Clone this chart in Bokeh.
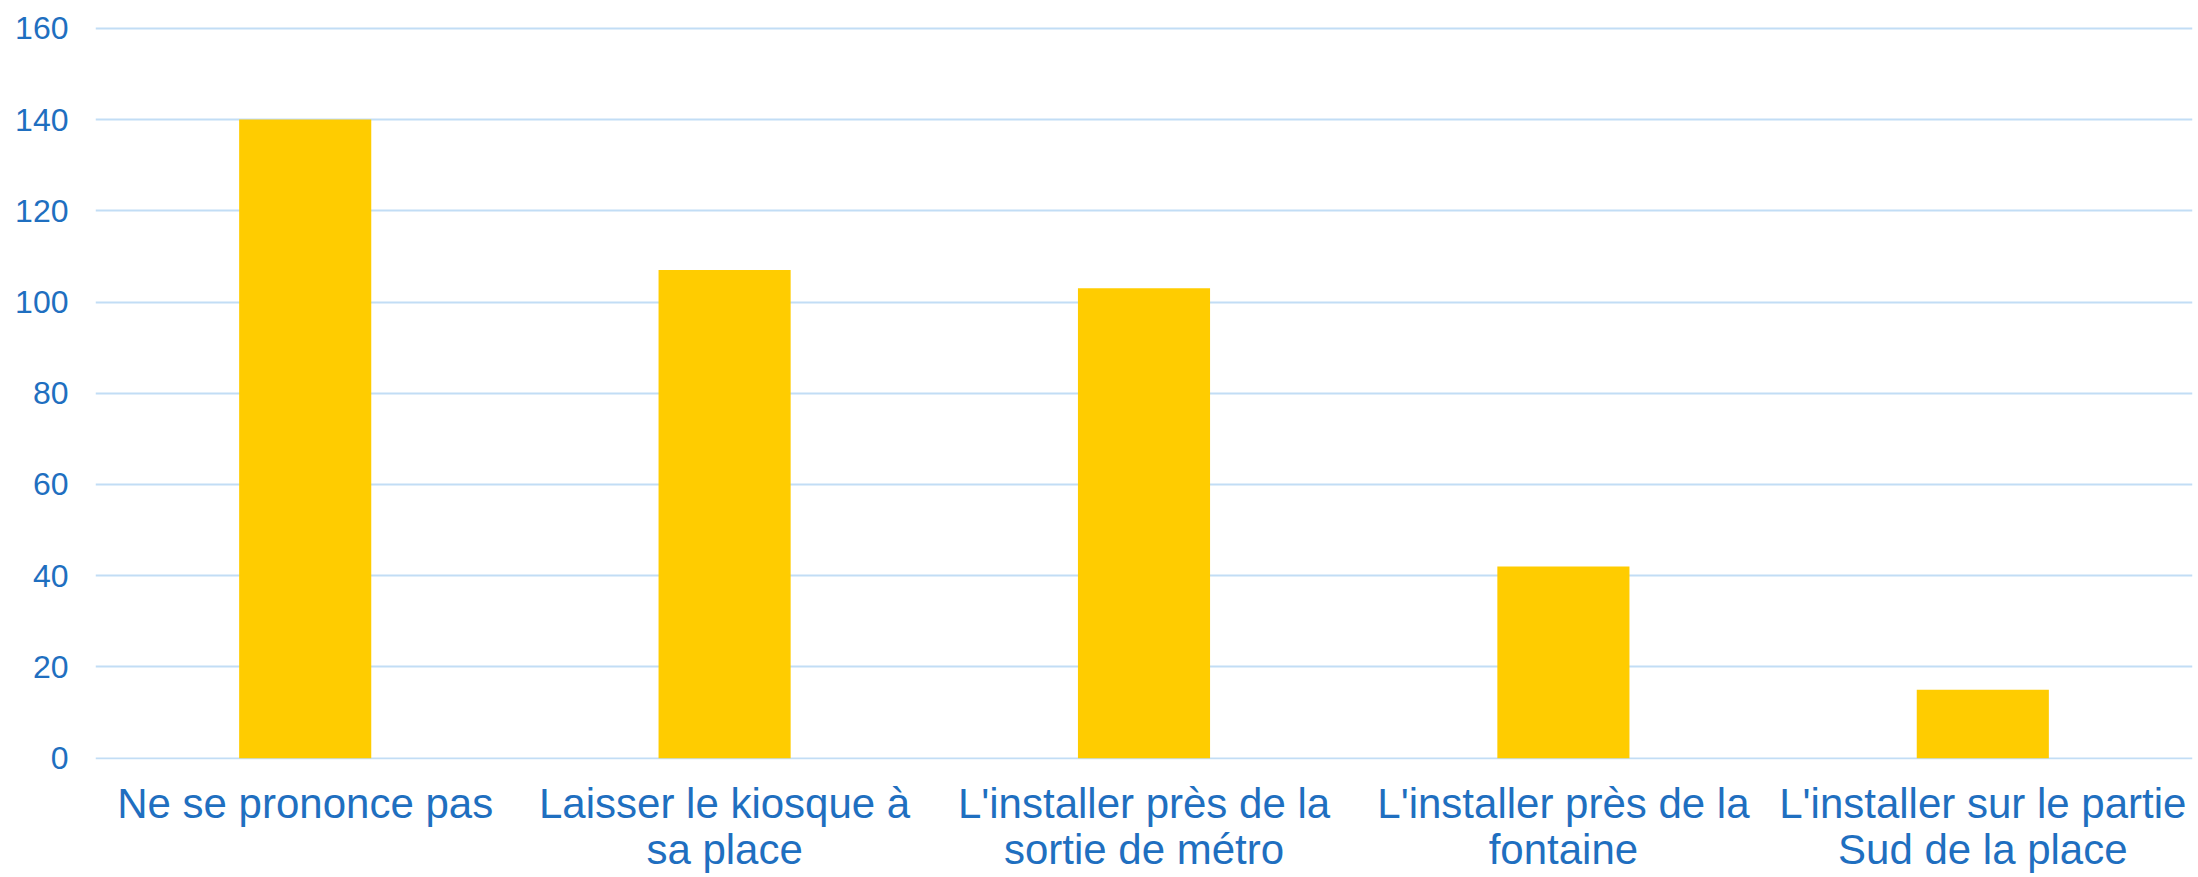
from bokeh.plotting import figure
from bokeh.models import FixedTicker
from bokeh.embed import file_html
from bokeh.resources import INLINE

categories = [
    "Ne se prononce pas",
    "Laisser le kiosque à\nsa place",
    "L'installer près de la\nsortie de métro",
    "L'installer près de la\nfontaine",
    "L'installer sur le partie\nSud de la place",
]
values = [140, 107, 103, 42, 15]
y_ticks = [0, 20, 40, 60, 80, 100, 120, 140, 160]

TEXT_BLUE = "#1F6FC0"
GRID_BLUE = "#C2DDF5"
BAR_YELLOW = "#FFCC00"
FONT = "Liberation Sans"

p = figure(
    x_range=categories,
    y_range=(-0.3, 160.4),
    width=2198,
    height=877,
    output_backend="svg",
    toolbar_location=None,
    min_border_left=95,
    min_border_right=6,
    min_border_top=26,
    min_border_bottom=118,
)
p.outline_line_color = None
p.background_fill_color = "white"
p.border_fill_color = "white"

p.vbar(x=categories, top=values, bottom=0, width=0.315,
       fill_color=BAR_YELLOW, line_color=None)

# x axis: category labels only
p.xaxis.axis_line_color = None
p.xaxis.major_tick_line_color = None
p.xaxis.minor_tick_line_color = None
p.xaxis.major_tick_out = 0
p.xaxis.major_tick_in = 0
p.xaxis.minor_tick_out = 0
p.xaxis.major_label_standoff = 20
p.xaxis.major_label_text_font = FONT
p.xaxis.major_label_text_font_size = "42px"
p.xaxis.major_label_text_color = TEXT_BLUE
p.xaxis.major_label_text_line_height = 0.98
p.xgrid.grid_line_color = None

# y axis
p.yaxis.ticker = FixedTicker(ticks=y_ticks)
p.yaxis.axis_line_color = None
p.yaxis.major_tick_line_color = None
p.yaxis.minor_tick_line_color = None
p.yaxis.major_label_standoff = 21
p.yaxis.major_label_text_font = FONT
p.yaxis.major_label_text_font_size = "32px"
p.yaxis.major_label_text_color = TEXT_BLUE

p.ygrid.ticker = FixedTicker(ticks=y_ticks)
p.ygrid.grid_line_color = GRID_BLUE
p.ygrid.grid_line_width = 2

open("out.html", "w").write(file_html(p, INLINE))
